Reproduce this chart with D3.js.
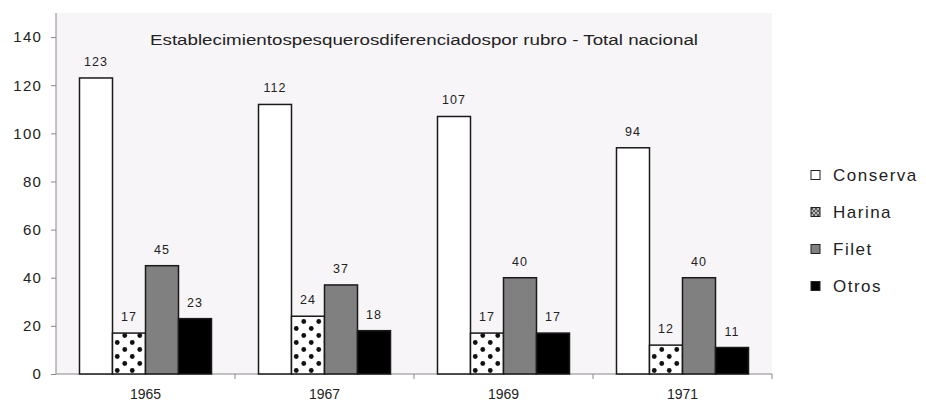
<!DOCTYPE html>
<html>
<head>
<meta charset="utf-8">
<script src="https://cdn.jsdelivr.net/npm/d3@7"></script>
<style>
  html, body { margin: 0; padding: 0; background: #fff; }
  svg { display: block; font-family: "Liberation Sans", Arial, sans-serif; }
</style>
</head>
<body>
<svg id="chart" width="926" height="401"></svg>
<script>
// Establecimientos pesqueros por rubro, total nacional
const years = ["1965", "1967", "1969", "1971"];
const series = ["Conserva", "Harina", "Filet", "Otros"];
const conserva = [123, 112, 107, 94];
const harina = [17, 24, 17, 12];
const filet = [45, 37, 40, 40];
const otros = [23, 18, 17, 11];
const yTicks = [0, 20, 40, 60, 80, 100, 120, 140];
const title = "Establecimientospesquerosdiferenciadospor rubro - Total nacional";

const values = { Conserva: conserva, Harina: harina, Filet: filet, Otros: otros };

const svg = d3.select("#chart");

const plot = { left: 56, right: 772, top: 13, bottom: 374 };

const x0 = d3.scaleBand().domain(years).range([plot.left, plot.right]).padding(0);
const x1 = d3.scaleBand().domain(series).range([0, x0.bandwidth()])
  .paddingInner(0).paddingOuter(0.712);
const y = d3.scaleLinear().domain([0, 150]).range([plot.bottom, plot.top]);

// dotted fill for Harina
const defs = svg.append("defs");
const dots = defs.append("pattern")
  .attr("id", "dots").attr("patternUnits", "userSpaceOnUse")
  .attr("width", 15).attr("height", 14)
  .attr("x", 80).attr("y", plot.bottom);
dots.append("rect").attr("width", 15).attr("height", 14).attr("fill", "#fff");
dots.append("circle").attr("cx", 3.75).attr("cy", 3.5).attr("r", 2.4).attr("fill", "#111");
dots.append("circle").attr("cx", 11.25).attr("cy", 10.5).attr("r", 2.4).attr("fill", "#111");

const small = defs.append("pattern")
  .attr("id", "dotsSmall").attr("patternUnits", "userSpaceOnUse")
  .attr("width", 4).attr("height", 4);
small.append("rect").attr("width", 4).attr("height", 4).attr("fill", "#bbb");
small.append("rect").attr("width", 2).attr("height", 2).attr("fill", "#555");
small.append("rect").attr("x", 2).attr("y", 2).attr("width", 2).attr("height", 2).attr("fill", "#555");

const fills = { Conserva: "#ffffff", Harina: "url(#dots)", Filet: "#808080", Otros: "#000000" };
const legendFills = { Conserva: "#ffffff", Harina: "url(#dotsSmall)", Filet: "#808080", Otros: "#000000" };

// plot background
svg.append("rect")
  .attr("x", plot.left).attr("y", plot.top)
  .attr("width", plot.right - plot.left).attr("height", plot.bottom - plot.top)
  .attr("fill", "#f8f5f8");

// y axis
const yAxis = svg.append("g")
  .attr("transform", `translate(${plot.left},0)`)
  .call(d3.axisLeft(y).tickValues(yTicks).tickSize(5).tickSizeOuter(0).tickPadding(9));
yAxis.select(".domain").attr("stroke", "#888").attr("d", `M0,${plot.top}V${plot.bottom}`);
yAxis.selectAll(".tick line").attr("stroke", "#888");
yAxis.selectAll(".tick text")
  .attr("font-size", 15).attr("fill", "#222")
  .style("letter-spacing", "1.2px");

// x axis: ticks at category boundaries
const xAxis = svg.append("g").attr("transform", `translate(0,${plot.bottom})`);
xAxis.append("line")
  .attr("x1", plot.left).attr("x2", plot.right)
  .attr("stroke", "#888");
const bounds = years.map(d => x0(d)).concat([plot.right]);
xAxis.selectAll("line.tk").data(bounds.slice(1)).join("line")
  .attr("class", "tk")
  .attr("x1", d => d).attr("x2", d => d).attr("y1", 0).attr("y2", 5)
  .attr("stroke", "#888");
xAxis.selectAll("text").data(years).join("text")
  .attr("x", d => x0(d) + x0.bandwidth() / 2)
  .attr("y", 25)
  .attr("text-anchor", "middle")
  .attr("font-size", 14).attr("fill", "#222")
  .text(d => d);

// bars
const groups = svg.append("g").selectAll("g").data(years).join("g")
  .attr("transform", d => `translate(${x0(d)},0)`);

groups.selectAll("rect")
  .data((d, i) => series.map(s => ({ s, v: values[s][i] })))
  .join("rect")
  .attr("x", d => x1(d.s))
  .attr("y", d => y(d.v))
  .attr("width", x1.bandwidth())
  .attr("height", d => y(0) - y(d.v))
  .attr("fill", d => fills[d.s])
  .attr("stroke", "#1a1a1a").attr("stroke-width", 1.5);

groups.selectAll("text")
  .data((d, i) => series.map(s => ({ s, v: values[s][i] })))
  .join("text")
  .attr("x", d => x1(d.s) + x1.bandwidth() / 2)
  .attr("y", d => y(d.v) - 12)
  .attr("text-anchor", "middle")
  .attr("font-size", 12.5).attr("fill", "#222")
  .style("letter-spacing", "1px")
  .text(d => d.v);

// title
svg.append("text")
  .attr("x", 150).attr("y", 45)
  .attr("font-size", 14).attr("fill", "#222")
  .attr("textLength", 548).attr("lengthAdjust", "spacingAndGlyphs")
  .text(title);

// legend
const legend = svg.append("g").selectAll("g").data(series).join("g")
  .attr("transform", (d, i) => `translate(811,${175 + i * 37})`);
legend.append("rect")
  .attr("x", 0).attr("y", -4.5).attr("width", 9).attr("height", 9)
  .attr("fill", d => legendFills[d])
  .attr("stroke", "#222").attr("stroke-width", 1);
legend.append("text")
  .attr("x", 22).attr("y", 6)
  .attr("font-size", 17).attr("fill", "#222")
  .style("letter-spacing", "1.5px")
  .text(d => d);
</script>
</body>
</html>
